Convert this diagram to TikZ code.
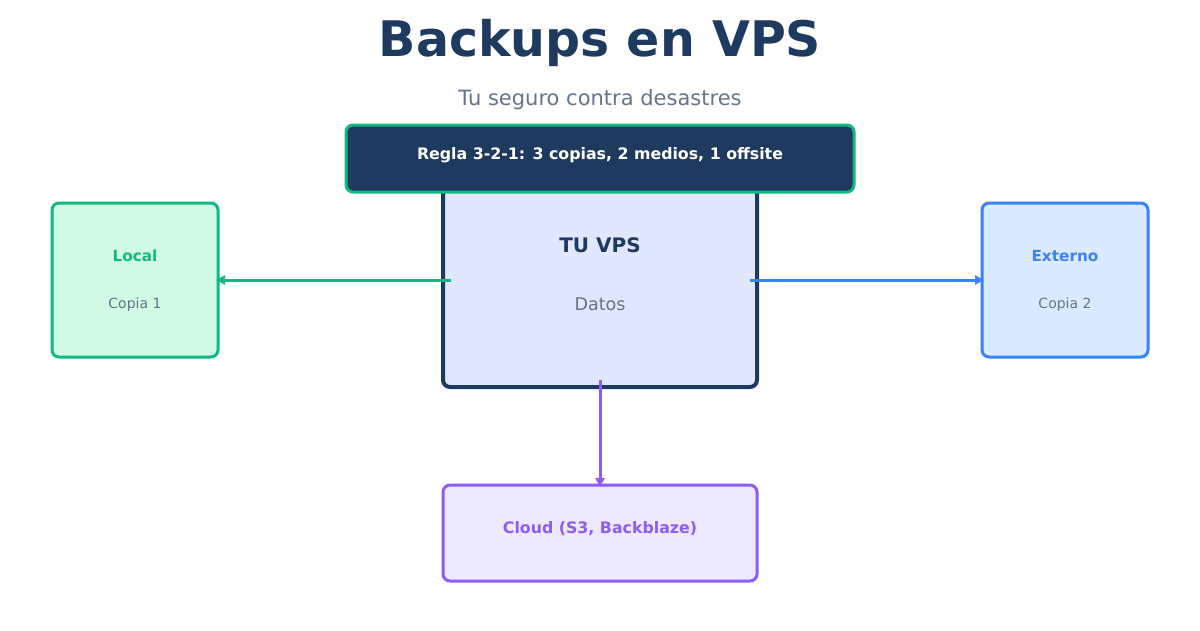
\documentclass[tikz,border=0pt]{standalone}
\usepackage{fontspec}
\setmainfont{DejaVu Sans}
\usetikzlibrary{arrows.meta}
\definecolor{navy}{HTML}{1E3A5F}
\definecolor{grayTxt}{HTML}{64748B}
\definecolor{greenC}{HTML}{10B981}
\definecolor{greenF}{HTML}{D1FAE5}
\definecolor{blueC}{HTML}{3B82F6}
\definecolor{blueF}{HTML}{DBEAFE}
\definecolor{violetC}{HTML}{8B5CF6}
\definecolor{violetF}{HTML}{EDE9FE}
\definecolor{vpsF}{HTML}{E0E7FF}
\newcommand{\fs}[1]{\fontsize{#1}{#1}\selectfont}
\tikzset{
  box/.style={draw,rounded corners=7pt,line width=3pt,inner sep=0pt,outer sep=0pt},
  link/.style={line width=3pt,-{Triangle[length=9pt,width=9pt]},shorten >=-2pt},
  lbl/.style={font=\fs{15.3}\bfseries},
  sub/.style={font=\fs{14},text=grayTxt}
}
\begin{document}
\begin{tikzpicture}[x=1pt,y=-1pt]
\useasboundingbox (0,0) rectangle (1200,630);
\node[font=\fs{49}\bfseries,text=navy] (title) at (600,43) {Backups en VPS};
\node[font=\fs{21},text=grayTxt] (subtitle) at (600,100) {Tu seguro contra desastres};
\node[box,line width=4pt,draw=navy,fill=vpsF,minimum width=314pt,minimum height=202pt] (vps) at (600,286) {};
\node[box,draw=greenC,fill=navy,minimum width=508pt,minimum height=67pt] (rule) at (600,158.5) {};
\node[font=\fs{15.8}\bfseries,text=white] (ruletxt) at (600,155) {Regla 3-2-1: 3 copias, 2 medios, 1 offsite};
\node[font=\fs{20}\bfseries,text=navy] (vpstxt) at (600,245) {TU VPS};
\node[font=\fs{17.5},text=grayTxt] (datos) at (600,304.5) {Datos};
\node[box,draw=greenC,fill=greenF,minimum width=166pt,minimum height=154pt] (local) at (135,280) {};
\node[lbl,text=greenC] at (135,256) {Local};
\node[sub] at (135,305) {Copia 1};
\node[box,draw=blueC,fill=blueF,minimum width=166pt,minimum height=154pt] (ext) at (1065,280) {};
\node[lbl,text=blueC] at (1065,256) {Externo};
\node[sub] at (1065,305) {Copia 2};
\node[box,draw=violetC,fill=violetF,minimum width=314pt,minimum height=96pt] (cloud) at (600,533) {};
\node[font=\fs{15.8}\bfseries,text=violetC] at (600,529) {Cloud (S3, Backblaze)};
\draw[link,greenC] ([xshift=8pt]vps.west |- local.east) -- (local.east);
\draw[link,blueC] ([xshift=-7pt]vps.east |- ext.west) -- (ext.west);
\draw[link,violetC] ([yshift=7pt]vps.south) -- (cloud.north);
\end{tikzpicture}
\end{document}
